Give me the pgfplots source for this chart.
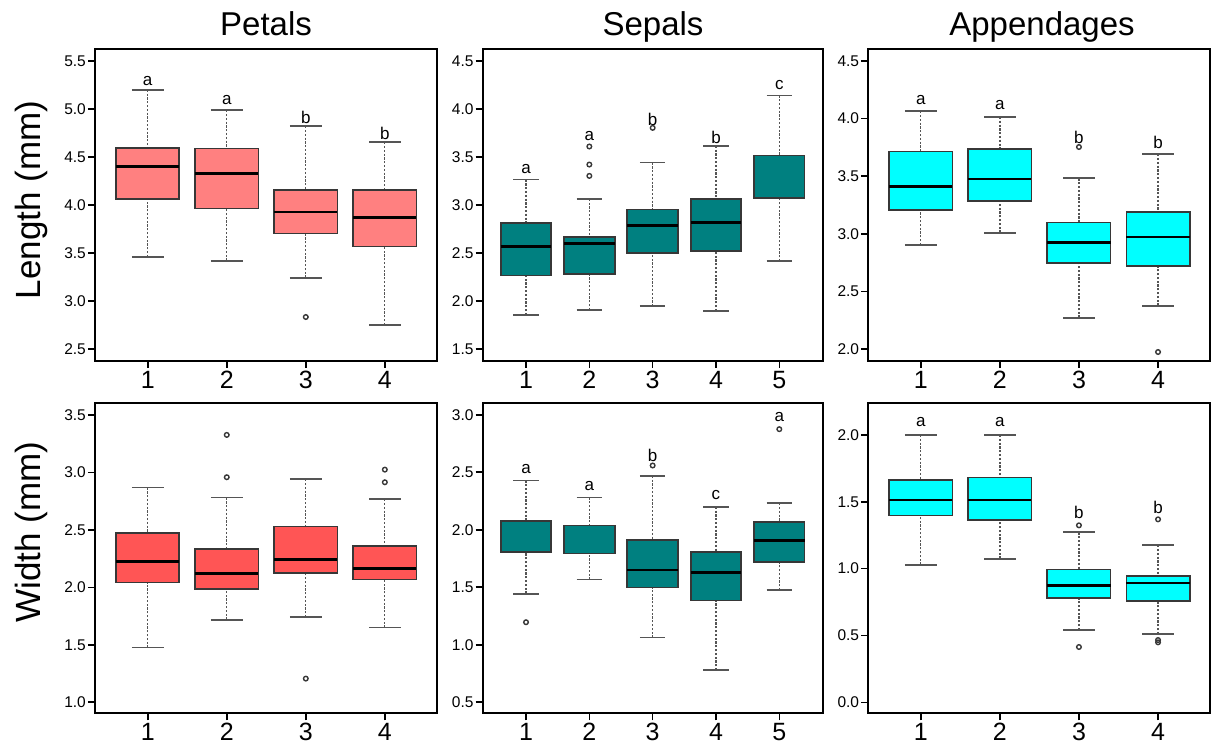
\documentclass[border=0pt]{standalone}
\usepackage{pgfplots}
\pgfplotsset{compat=1.18}
\usepgfplotslibrary{statistics}
\usepackage{fontspec}
\setmainfont{Liberation Sans}
\definecolor{petalL}{RGB}{255,128,128}
\definecolor{petalW}{RGB}{255,85,85}
\definecolor{sepal}{RGB}{0,128,128}
\definecolor{app}{RGB}{0,255,255}
\definecolor{boxedge}{RGB}{55,55,55}
\definecolor{whisk}{RGB}{85,85,85}
\tikzset{
  wline/.style={draw=whisk, line width=1.3pt, dash pattern=on 2.2pt off 1.6pt},
  wcap/.style={draw=whisk, line width=1.8pt, solid},
  lab/.style={font=\fontsize{17}{17}\selectfont, inner sep=0pt},
}
\pgfplotsset{
  boxplot/draw/lower whisker/.code={%
    \draw[wline] (boxplot box cs:\pgfplotsboxplotvalue{lower whisker},0.5) -- (boxplot box cs:\pgfplotsboxplotvalue{lower quartile},0.5);
    \draw[wcap] (boxplot whisker cs:\pgfplotsboxplotvalue{lower whisker},0) -- (boxplot whisker cs:\pgfplotsboxplotvalue{lower whisker},1);
  },
  boxplot/draw/upper whisker/.code={%
    \draw[wline] (boxplot box cs:\pgfplotsboxplotvalue{upper whisker},0.5) -- (boxplot box cs:\pgfplotsboxplotvalue{upper quartile},0.5);
    \draw[wcap] (boxplot whisker cs:\pgfplotsboxplotvalue{upper whisker},0) -- (boxplot whisker cs:\pgfplotsboxplotvalue{upper whisker},1);
  },
  myaxis/.style={
    scale only axis, anchor=south west, clip=false,
    axis line style={line width=2pt, black},
    tick style={line width=1.6pt, black},
    tick align=outside, xtick pos=bottom, ytick pos=left,
    major tick length=7pt,
    /pgf/number format/assume math mode=true,
    yticklabel style={font=\fontsize{15.5}{15.5}\selectfont, /pgf/number format/fixed, /pgf/number format/fixed zerofill, /pgf/number format/precision=1, inner sep=2pt},
    xticklabel style={font=\fontsize{25}{25}\selectfont, inner sep=3pt},
    boxplot/draw direction=y,
    boxplot/box extend=0.8,
    boxplot/whisker extend=0.4,
    boxplot/every median/.style={draw=black, line width=2.8pt},
    boxplot/every box/.style={draw=boxedge, line width=1.7pt, fill=#1},
    every axis plot/.append style={mark=o, mark size=2.3pt, mark options={draw=boxedge, line width=1.4pt, fill=none, solid}},
  },
  nomed/.style={boxplot/every median/.style={draw=none}},
}
\begin{document}
\begin{tikzpicture}
\useasboundingbox (0,0) rectangle (1214pt,747pt);
\fontsize{33}{33}\selectfont
\node[anchor=base] at (266pt,711pt) {Petals};
\node[anchor=base] at (653pt,711pt) {Sepals};
\node[anchor=base] at (1042pt,711pt) {Appendages};
\node[rotate=90, anchor=base, font=\fontsize{35}{35}\selectfont] at (40pt,547pt) {Length (mm)};
\node[rotate=90, anchor=base, font=\fontsize{35}{35}\selectfont] at (40pt,215pt) {Width (mm)};

% ---------------- Petals length
\begin{axis}[myaxis=petalL, at={(95pt,386pt)}, width=342pt, height=311.7pt,
  xmin=0.333, xmax=4.66, ymin=2.375, ymax=5.62, xtick={1,2,3,4}, ytick={2.5,3,...,5.5}]
\addplot[boxplot prepared={draw position=1, lower whisker=3.458, lower quartile=4.059, median=4.396, upper quartile=4.594, upper whisker=5.198}] coordinates {};
\addplot[boxplot prepared={draw position=2, lower whisker=3.420, lower quartile=3.962, median=4.326, upper quartile=4.587, upper whisker=4.986}] coordinates {};
\addplot[boxplot prepared={draw position=3, lower whisker=3.243, lower quartile=3.701, median=3.927, upper quartile=4.156, upper whisker=4.819}] table[row sep=\\, y index=0] {data\\ 2.833\\};
\addplot[boxplot prepared={draw position=4, lower whisker=2.750, lower quartile=3.566, median=3.868, upper quartile=4.156, upper whisker=4.653}] coordinates {};
\node[lab] at (axis cs:1,5.29) {a};
\node[lab] at (axis cs:2,5.09) {a};
\node[lab] at (axis cs:3,4.91) {b};
\node[lab] at (axis cs:4,4.74) {b};
\end{axis}

% ---------------- Sepals length
\begin{axis}[myaxis=sepal, at={(482.7pt,386pt)}, width=340.6pt, height=311.7pt,
  xmin=0.316, xmax=5.695, ymin=1.375, ymax=4.62, xtick={1,2,3,4,5}, ytick={1.5,2,...,4.5}]
\addplot[boxplot prepared={draw position=1, lower whisker=1.854, lower quartile=2.264, median=2.569, upper quartile=2.809, upper whisker=3.264}] coordinates {};
\addplot[boxplot prepared={draw position=2, lower whisker=1.906, lower quartile=2.281, median=2.601, upper quartile=2.663, upper whisker=3.063}] table[row sep=\\, y index=0] {data\\ 3.608\\ 3.420\\ 3.302\\};
\addplot[boxplot prepared={draw position=3, lower whisker=1.944, lower quartile=2.497, median=2.785, upper quartile=2.951, upper whisker=3.441}] table[row sep=\\, y index=0] {data\\ 3.802\\};
\addplot[boxplot prepared={draw position=4, lower whisker=1.896, lower quartile=2.517, median=2.816, upper quartile=3.059, upper whisker=3.615}] coordinates {};
\addplot[nomed, boxplot prepared={draw position=5, lower whisker=2.413, lower quartile=3.069, median=3.514, upper quartile=3.514, upper whisker=4.139}] coordinates {};
\node[lab] at (axis cs:1,3.375) {a};
\node[lab] at (axis cs:2,3.72) {a};
\node[lab] at (axis cs:3,3.885) {b};
\node[lab] at (axis cs:4,3.705) {b};
\node[lab] at (axis cs:5,4.25) {c};
\end{axis}

% ---------------- Appendages length
\begin{axis}[myaxis=app, at={(868.3pt,386pt)}, width=341.7pt, height=311.7pt,
  xmin=0.337, xmax=4.657, ymin=1.896, ymax=4.601, xtick={1,2,3,4}, ytick={2,2.5,...,4.5}]
\addplot[boxplot prepared={draw position=1, lower whisker=2.903, lower quartile=3.209, median=3.412, upper quartile=3.713, upper whisker=4.063}] coordinates {};
\addplot[boxplot prepared={draw position=2, lower whisker=3.010, lower quartile=3.282, median=3.476, upper quartile=3.733, upper whisker=4.014}] coordinates {};
\addplot[boxplot prepared={draw position=3, lower whisker=2.272, lower quartile=2.749, median=2.926, upper quartile=3.097, upper whisker=3.481}] table[row sep=\\, y index=0] {data\\ 3.753\\};
\addplot[boxplot prepared={draw position=4, lower whisker=2.376, lower quartile=2.723, median=2.972, upper quartile=3.186, upper whisker=3.690}] table[row sep=\\, y index=0] {data\\ 1.974\\};
\node[lab] at (axis cs:1,4.16) {a};
\node[lab] at (axis cs:2,4.12) {a};
\node[lab] at (axis cs:3,3.84) {b};
\node[lab] at (axis cs:4,3.79) {b};
\end{axis}

% ---------------- Petals width
\begin{axis}[myaxis=petalW, at={(95pt,33.7pt)}, width=342pt, height=310pt,
  xmin=0.333, xmax=4.66, ymin=0.904, ymax=3.601, xtick={1,2,3,4}, ytick={1,1.5,...,3.5}]
\addplot[boxplot prepared={draw position=1, lower whisker=1.476, lower quartile=2.041, median=2.224, upper quartile=2.470, upper whisker=2.868}] coordinates {};
\addplot[boxplot prepared={draw position=2, lower whisker=1.719, lower quartile=1.983, median=2.119, upper quartile=2.331, upper whisker=2.781}] table[row sep=\\, y index=0] {data\\ 3.326\\ 2.958\\};
\addplot[boxplot prepared={draw position=3, lower whisker=1.740, lower quartile=2.122, median=2.241, upper quartile=2.528, upper whisker=2.940}] table[row sep=\\, y index=0] {data\\ 1.206\\};
\addplot[boxplot prepared={draw position=4, lower whisker=1.650, lower quartile=2.067, median=2.166, upper quartile=2.357, upper whisker=2.766}] table[row sep=\\, y index=0] {data\\ 3.024\\ 2.914\\};
\end{axis}

% ---------------- Sepals width
\begin{axis}[myaxis=sepal, at={(482.7pt,33.7pt)}, width=340.6pt, height=310pt,
  xmin=0.316, xmax=5.695, ymin=0.404, ymax=3.10, xtick={1,2,3,4,5}, ytick={0.5,1,...,3}]
\addplot[nomed, boxplot prepared={draw position=1, lower whisker=1.445, lower quartile=1.808, median=2.075, upper quartile=2.075, upper whisker=2.429}] table[row sep=\\, y index=0] {data\\ 1.196\\};
\addplot[nomed, boxplot prepared={draw position=2, lower whisker=1.567, lower quartile=1.793, median=2.037, upper quartile=2.037, upper whisker=2.281}] coordinates {};
\addplot[boxplot prepared={draw position=3, lower whisker=1.063, lower quartile=1.498, median=1.651, upper quartile=1.912, upper whisker=2.469}] table[row sep=\\, y index=0] {data\\ 2.559\\};
\addplot[boxplot prepared={draw position=4, lower whisker=0.778, lower quartile=1.385, median=1.628, upper quartile=1.808, upper whisker=2.200}] coordinates {};
\addplot[boxplot prepared={draw position=5, lower whisker=1.474, lower quartile=1.718, median=1.904, upper quartile=2.066, upper whisker=2.231}] table[row sep=\\, y index=0] {data\\ 2.875\\};
\node[lab] at (axis cs:1,2.53) {a};
\node[lab] at (axis cs:2,2.38) {a};
\node[lab] at (axis cs:3,2.65) {b};
\node[lab] at (axis cs:4,2.30) {c};
\node[lab] at (axis cs:5,2.98) {a};
\end{axis}

% ---------------- Appendages width
\begin{axis}[myaxis=app, at={(868.3pt,33.7pt)}, width=341.7pt, height=310pt,
  xmin=0.337, xmax=4.657, ymin=-0.082, ymax=2.237, xtick={1,2,3,4}, ytick={0,0.5,...,2}]
\addplot[boxplot prepared={draw position=1, lower whisker=1.030, lower quartile=1.397, median=1.514, upper quartile=1.663, upper whisker=2.0}] coordinates {};
\addplot[boxplot prepared={draw position=2, lower whisker=1.075, lower quartile=1.362, median=1.514, upper quartile=1.683, upper whisker=2.0}] coordinates {};
\addplot[boxplot prepared={draw position=3, lower whisker=0.541, lower quartile=0.783, median=0.875, upper quartile=0.993, upper whisker=1.272}] table[row sep=\\, y index=0] {data\\ 1.324\\ 0.414\\};
\addplot[boxplot prepared={draw position=4, lower whisker=0.511, lower quartile=0.756, median=0.893, upper quartile=0.943, upper whisker=1.175}] table[row sep=\\, y index=0] {data\\ 1.369\\ 0.466\\ 0.449\\};
\node[lab] at (axis cs:1,2.10) {a};
\node[lab] at (axis cs:2,2.10) {a};
\node[lab] at (axis cs:3,1.42) {b};
\node[lab] at (axis cs:4,1.46) {b};
\end{axis}
\end{tikzpicture}
\end{document}
